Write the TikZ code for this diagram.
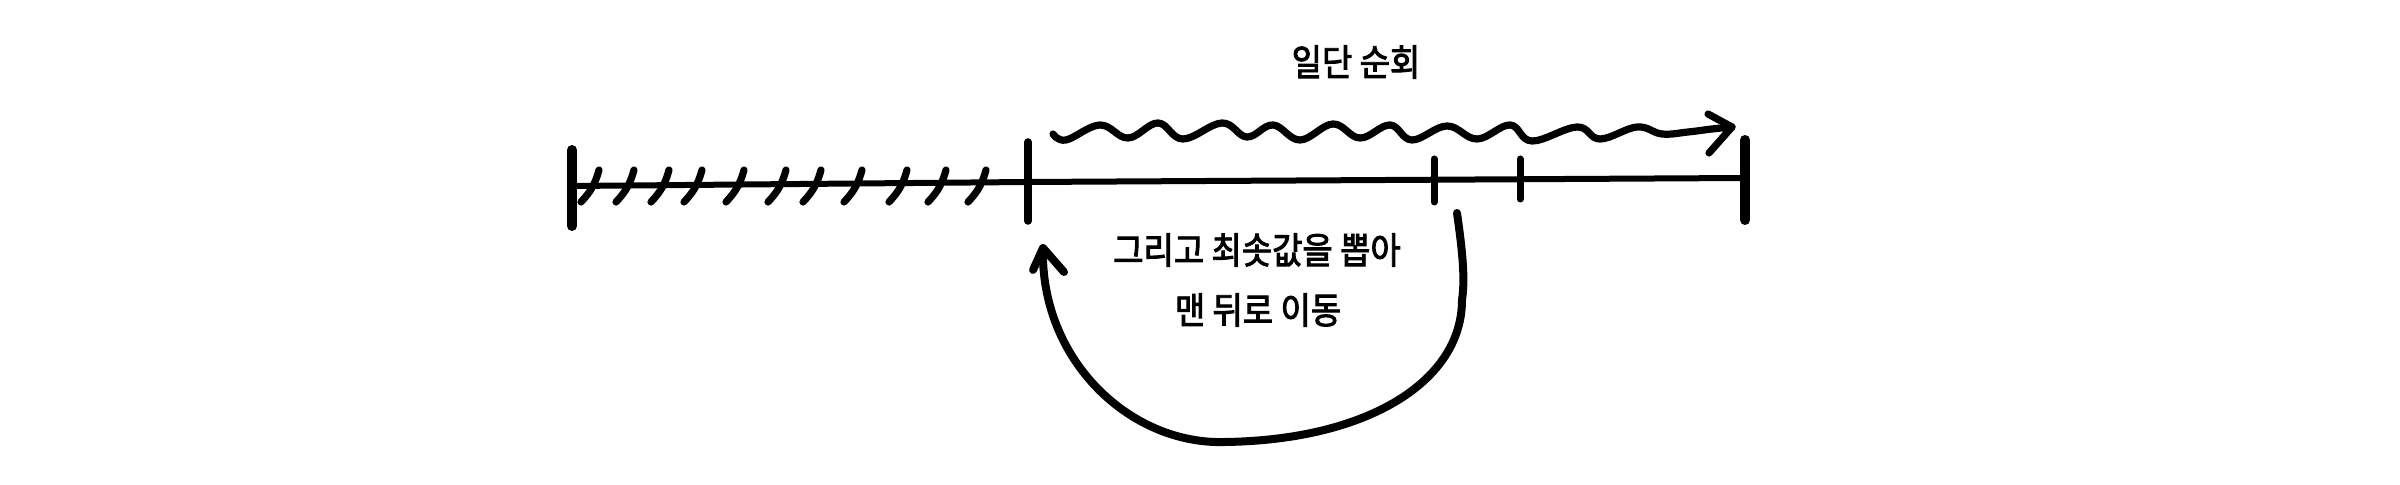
\documentclass[tikz,border=0pt]{standalone}
\usepackage{fontspec}
\newfontfamily\kor{Noto Sans CJK KR}[FakeStretch=0.9,FakeBold=2.5]
\begin{document}
\begin{tikzpicture}[x=0.5pt,y=-0.5pt,
  ink/.style={line cap=round,line join=round,black},
  axis/.style={ink,line width=3pt},
  bigbar/.style={ink,line width=5pt},
  midbar/.style={ink,line width=3.8pt},
  tickmark/.style={ink,line width=3.5pt},
  hatch/.style={ink,line width=3.6pt},
  wave/.style={ink,line width=3.6pt},
  flow/.style={ink,line width=4pt},
  lbl/.style={font=\kor\fontsize{18.3}{22}\selectfont,inner sep=0pt,anchor=center}]
\useasboundingbox (0,0) rectangle (2400,485);
% main line
\coordinate (L) at (572,186);
\coordinate (M) at (1028,182);
\coordinate (R) at (1745,178);
\draw[axis] (L) -- (M) -- (R);
% bars
\coordinate (Lt) at (572,150); \coordinate (Lb) at (572,226);
\coordinate (Mt) at (1028,142); \coordinate (Mb) at (1028,221);
\coordinate (Rt) at (1745,140); \coordinate (Rb) at (1745,220);
\draw[bigbar] (Lt) -- (Lb);
\draw[midbar] (Mt) -- (Mb);
\draw[bigbar] (Rt) -- (Rb);
% ticks
\coordinate (T1t) at (1434,159); \coordinate (T1b) at (1434,202);
\coordinate (T2t) at (1520,159); \coordinate (T2b) at (1520,199);
\draw[tickmark] (T1t) -- (T1b);
\draw[tickmark] (T2t) -- (T2b);
% hatches
\foreach \x in {590,625,660,693,735,777,812,853,898,937,977}
  \draw[hatch] (\x-9,202) to[bend right=14] (\x+9,170);
% wavy arrow
\coordinate (ws) at (1053,134);
\coordinate (we) at (1732,127);
\coordinate (wb1) at (1708,114);
\coordinate (wb2) at (1709,153);
\draw[wave] plot[smooth,tension=0.65] coordinates {
  (ws) (1066,140) (1100,125) (1128,138) (1158,123) (1183,139) (1222,123)
  (1247,137) (1273,125) (1300,140) (1333,124) (1360,138) (1390,125)
  (1412,140) (1447,126) (1477,139) (1510,125) (1532,141) (1577,127)
  (1600,139) (1637,127) (1662,134) (1688,132) (1712,129) (we)};
\draw[wave] (wb1) -- (we) -- (wb2);
% labels
\node[lbl] (t1) at (1356,62) {일단 순회};
\node[lbl] (t2) at (1257,250) {그리고 최솟값을 뽑아};
\node[lbl] (t3) at (1258,310) {맨 뒤로 이동};
% curved arrow
\coordinate (cs) at (1457,213);
\coordinate (cb) at (1225,442);
\coordinate (ce) at (1043,248);
\coordinate (cb1) at (1033,270);
\coordinate (cb2) at (1064,272);
\draw[flow] (cs) .. controls (1463,255) and (1465,280) .. (1462,300)
  .. controls (1462,380) and (1370,440) .. (cb)
  .. controls (1130,445) and (1040,360) .. (ce);
\draw[flow] (cb1) -- (ce) -- (cb2);
\end{tikzpicture}
\end{document}
